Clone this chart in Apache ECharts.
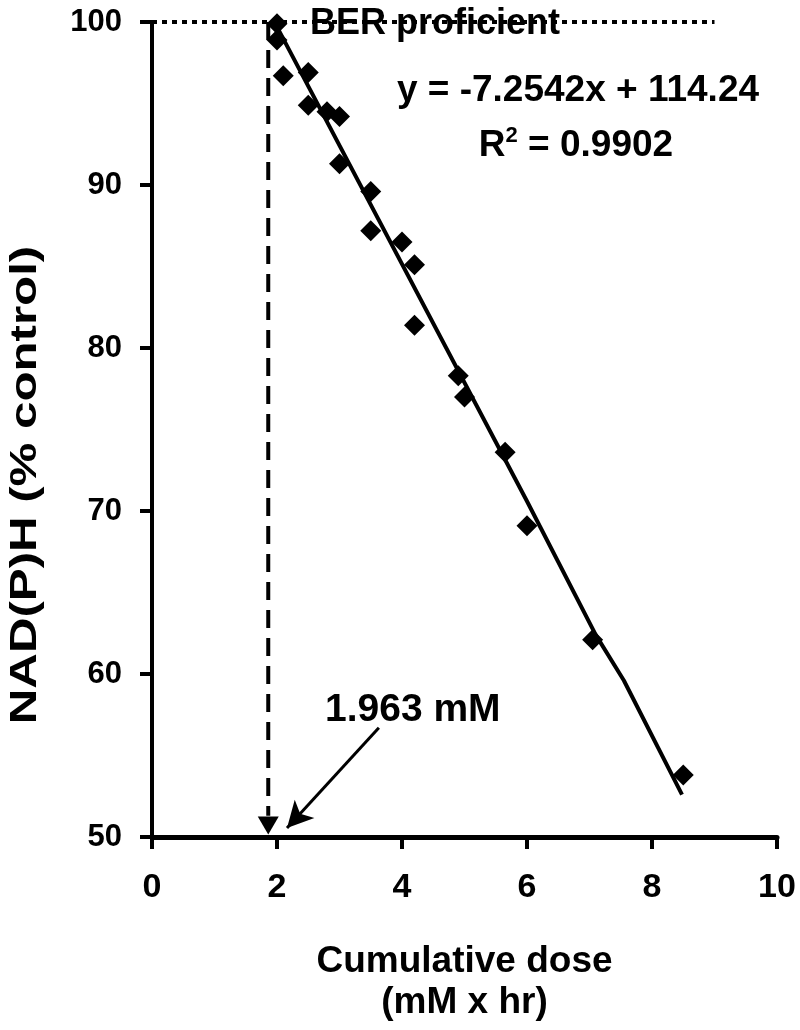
<!DOCTYPE html>
<html>
<head>
<meta charset="utf-8">
<script src="https://cdn.jsdelivr.net/npm/echarts@6/dist/echarts.min.js"></script>
<style>
  html, body { margin: 0; padding: 0; background: #fff; }
  #chart { width: 800px; height: 1030px; }
</style>
</head>
<body>
<div id="chart"></div>
<script>
// measured points (cumulative dose vs NAD(P)H % control)
const doseX = [2.0, 2.0, 2.1, 2.5, 2.5, 2.8, 3.0, 3.0, 3.5, 3.5, 4.0, 4.2, 4.2, 4.9, 5.0, 5.65, 6.0, 7.05, 8.5];
const nadY = [99.9, 98.9, 96.7, 96.9, 94.9, 94.5, 94.2, 91.3, 89.6, 87.2, 86.5, 85.1, 81.4, 78.3, 77.0, 73.6, 69.1, 62.1, 53.8];

// fitted line as drawn
const trendX = [2.0, 6.0, 7.1, 7.55, 8.48];
const trendY = [99.7, 70.6, 62.4, 59.6, 52.6];

// reference lines
const berLevel = [[0, 100], [9.0, 100]];
const cutoffLine = [[1.86, 100], [1.86, 51.3]];
const cutoffMark = [[1.86, 50.7]];
const arrowLine = [[3.63, 56.7], [2.16, 50.55]];

const xTicks = [0, 2, 4, 6, 8, 10];
const yTicks = [50, 60, 70, 80, 90, 100];

const font = 'Liberation Sans, Arial, sans-serif';

const chart = echarts.init(document.getElementById('chart'));

const option = {
  backgroundColor: '#fff',
  animation: false,
  grid: { left: 152, right: 23, top: 22, bottom: 193, containLabel: false },
  xAxis: {
    type: 'value',
    min: xTicks[0],
    max: xTicks[xTicks.length - 1],
    interval: 2,
    name: 'Cumulative dose\n(mM x hr)',
    nameLocation: 'middle',
    nameGap: 104,
    nameTextStyle: { fontFamily: font, fontWeight: 'bold', fontSize: 37, color: '#000', lineHeight: 41 },
    axisLine: { lineStyle: { color: '#000', width: 5 } },
    axisTick: { show: true, length: 12, lineStyle: { color: '#000', width: 4 } },
    axisLabel: { margin: 34, fontFamily: font, fontWeight: 'bold', fontSize: 34, color: '#000' },
    splitLine: { show: false }
  },
  yAxis: {
    type: 'value',
    min: yTicks[0],
    max: yTicks[yTicks.length - 1],
    interval: 10,
    axisLine: { lineStyle: { color: '#000', width: 4 } },
    axisTick: { show: true, length: 12, lineStyle: { color: '#000', width: 4 } },
    axisLabel: { margin: 30, fontFamily: font, fontWeight: 'bold', fontSize: 31, color: '#000' },
    splitLine: { show: false }
  },
  series: [
    {
      name: 'BER proficient',
      type: 'line',
      data: berLevel,
      symbol: 'none',
      lineStyle: { color: '#000', width: 4, type: [5, 5] },
      z: 1
    },
    {
      name: 'cutoff',
      type: 'line',
      data: cutoffLine,
      symbol: 'none',
      lineStyle: { color: '#000', width: 4, type: [18, 10] },
      z: 1
    },
    {
      name: 'cutoff mark',
      type: 'scatter',
      data: cutoffMark,
      symbol: 'triangle',
      symbolRotate: 180,
      symbolSize: [21, 18],
      itemStyle: { color: '#000', opacity: 1 },
      z: 3
    },
    {
      name: 'arrow',
      type: 'line',
      data: [],
      markLine: {
        silent: true,
        symbol: ['none', 'arrow'],
        symbolSize: [20, 26],
        label: { show: false },
        lineStyle: { color: '#000', width: 3, type: 'solid' },
        data: [[{ coord: arrowLine[0] }, { coord: arrowLine[1] }]]
      },
      z: 2
    },
    {
      name: 'fit',
      type: 'line',
      data: trendX.map((x, i) => [x, trendY[i]]),
      symbol: 'none',
      lineStyle: { color: '#000', width: 4 },
      z: 2
    },
    {
      name: 'NAD(P)H',
      type: 'scatter',
      data: doseX.map((x, i) => [x, nadY[i]]),
      symbol: 'diamond',
      symbolSize: 21,
      itemStyle: { color: '#000', opacity: 1 },
      z: 4
    }
  ],
  graphic: [
    {
      // y axis title, drawn a little stretched like the original
      type: 'text', x: 26, y: 485, rotation: Math.PI / 2, scaleX: 1.33, z: 10,
      style: {
        text: 'NAD(P)H (% control)', fontFamily: font, fontWeight: 'bold', fontSize: 37, fill: '#000',
        align: 'center', verticalAlign: 'middle'
      }
    },
    {
      type: 'text', left: 310, top: 6, z: 10,
      style: { text: 'BER proficient', fontFamily: font, fontWeight: 'bold', fontSize: 36, fill: '#000' }
    },
    {
      type: 'text', x: 578, y: 91, z: 10,
      style: {
        text: 'y = -7.2542x + 114.24', fontFamily: font, fontWeight: 'bold', fontSize: 37, fill: '#000',
        align: 'center', verticalAlign: 'middle'
      }
    },
    {
      type: 'text', x: 576, y: 146, z: 10,
      style: {
        text: '{a|R}{s|2}{a| = 0.9902}',
        align: 'center', verticalAlign: 'middle',
        rich: {
          a: { fontFamily: font, fontWeight: 'bold', fontSize: 37, fill: '#000', lineHeight: 42 },
          s: { fontFamily: font, fontWeight: 'bold', fontSize: 22, fill: '#000', verticalAlign: 'top', lineHeight: 42, padding: [0, 0, 14, 0] }
        }
      }
    },
    {
      type: 'text', left: 325, top: 691, z: 10,
      style: { text: '1.963 mM', fontFamily: font, fontWeight: 'bold', fontSize: 39, fill: '#000' }
    }
  ]
};

chart.setOption(option);
</script>
</body>
</html>
